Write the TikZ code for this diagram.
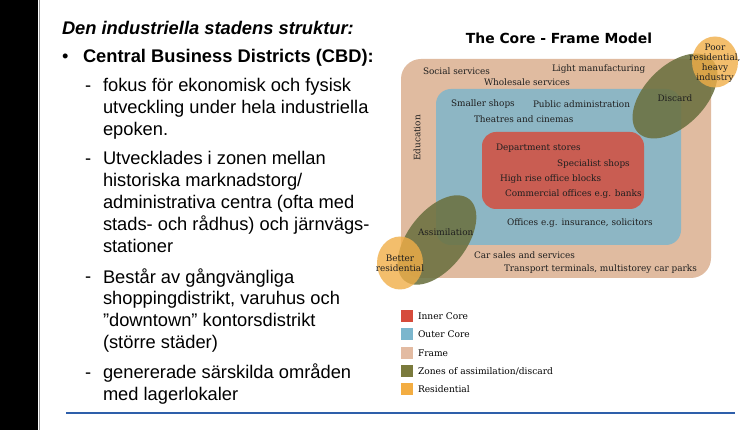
\documentclass[tikz,border=0pt]{standalone}
\usepackage{fontspec}
\setmainfont{Liberation Sans}
\newfontfamily\dvserif{DejaVu Serif}
\newfontfamily\dvsans{DejaVu Sans}
\usetikzlibrary{positioning,shapes.geometric}
\definecolor{FrameTan}{HTML}{E0BBA0}
\definecolor{OuterBlue}{HTML}{8DB6C4}
\definecolor{InnerRed}{HTML}{C95D52}
\definecolor{Olive}{HTML}{6B7140}
\definecolor{Resid}{HTML}{F0AE48}
\definecolor{KeyRed}{HTML}{D64B3B}
\definecolor{KeyBlue}{HTML}{7BB6CD}
\definecolor{KeyTan}{HTML}{E3BBA2}
\definecolor{KeyOlive}{HTML}{7A7A3C}
\definecolor{KeyOrange}{HTML}{F3AD42}
\definecolor{RuleBlue}{HTML}{2E5FAA}

\begin{document}
\begin{tikzpicture}[x=1pt,y=-1pt,
  every node/.style={inner sep=0pt,outer sep=0pt},
  slide/.style={anchor=base west,align=left,font=\fontsize{18.3}{22}\selectfont},
  zone/.style={anchor=north west,rounded corners=#1},
  lbl/.style={font=\dvserif\fontsize{8.9}{10}\selectfont,text=black!88},
  blob/.style={ellipse,fill=Olive,fill opacity=0.88},
  resid/.style={ellipse,fill=Resid,fill opacity=0.8},
  swatch/.style={minimum size=12pt},
  keylbl/.style={right=5pt of #1,font=\dvserif\fontsize{9.1}{10}\selectfont}]
\useasboundingbox (0,0) rectangle (753,430);
\fill[white] (0,0) rectangle (753,430);
\fill[black] (0,0) rectangle (38,430);
\draw[black!40] (39,0) -- (39,430);
% slide text
\node[slide,font=\fontsize{18.3}{22}\selectfont\bfseries\itshape] (head) at (62,35) {Den industriella stadens struktur:};
\node[slide] (dot) at (62,63) {\textbullet};
\node[slide,font=\fontsize{18.3}{22}\selectfont\bfseries] (cbd) at (83,63) {Central Business Districts (CBD):};
\node[slide] (d1) at (85,92) {-};
\node[slide] (p1) at (103,136) {fokus för ekonomisk och fysisk\\utveckling under hela industriella\\epoken.};
\node[slide] (d2) at (85,165) {-};
\node[slide] (p2) at (103,253) {Utvecklades i zonen mellan\\historiska marknadstorg/\\administrativa centra (ofta med\\stads- och rådhus) och järnvägs-\\stationer};
\node[slide] (d3) at (85,283) {-};
\node[slide] (p3) at (103,349) {Består av gångvängliga\\shoppingdistrikt, varuhus och\\”downtown” kontorsdistrikt\\(större städer)};
\node[slide] (d4) at (85,379) {-};
\node[slide] (p4) at (103,401) {genererade särskilda områden\\med lagerlokaler};
\draw[RuleBlue,line width=1.5pt] (66,413) -- (735,413);
% core - frame model
\node[font=\dvsans\bfseries\fontsize{13.9}{15}\selectfont] (title) at (559,38) {The Core - Frame Model};
\node[zone=20pt,fill=FrameTan,minimum width=310pt,minimum height=219pt] (frame) at (401,59) {};
\node[zone=15pt,fill=OuterBlue,minimum width=245pt,minimum height=156pt] (outer) at (436,89) {};
\node[zone=14pt,fill=InnerRed,minimum width=162pt,minimum height=77pt] (inner) at (482,132) {};
\node[blob,minimum width=104pt,minimum height=60pt,rotate=45] (discard) at (675,96) {};
\node[blob,minimum width=104pt,minimum height=58pt,rotate=52] (assim) at (437,240) {};
\node[resid,minimum width=46pt,minimum height=51pt] (poor) at (715,62) {};
\node[resid,minimum width=46pt,minimum height=53pt] (better) at (400,263) {};
\node[lbl,anchor=west] (social) at (423,71) {Social services};
\node[lbl,anchor=west] (light) at (552,69) {Light manufacturing};
\node[lbl,anchor=west] (whole) at (484,82) {Wholesale services};
\node[lbl,anchor=west] (shops) at (451,104) {Smaller shops};
\node[lbl,anchor=west] (admin) at (533,104) {Public administration};
\node[lbl,anchor=west] (theatre) at (474,119) {Theatres and cinemas};
\node[lbl,rotate=90] (edu) at (417,138) {Education};
\node[lbl] (discardlbl) at (675,98) {Discard};
\node[lbl,align=center] (poorlbl) at (715,63) {Poor\\residential,\\heavy\\industry};
\node[lbl,anchor=west] (dept) at (496,148) {Department stores};
\node[lbl,anchor=west] (spec) at (557,164) {Specialist shops};
\node[lbl,anchor=west] (high) at (500,179) {High rise office blocks};
\node[lbl,anchor=west] (banks) at (505,194) {Commercial offices e.g. banks};
\node[lbl,anchor=west] (offices) at (507,223) {Offices e.g. insurance, solicitors};
\node[lbl,anchor=west] (assimlbl) at (418,232) {Assimilation};
\node[lbl,align=center] (betterlbl) at (400,263) {Better\\residential};
\node[lbl,anchor=west] (cars) at (474,255) {Car sales and services};
\node[lbl,anchor=west] (transport) at (504,269) {Transport terminals, multistorey car parks};
% legend
\node[swatch,fill=KeyRed] (k1) at (407,316) {};
\node[swatch,fill=KeyBlue] (k2) at (407,334) {};
\node[swatch,fill=KeyTan] (k3) at (407,353) {};
\node[swatch,fill=KeyOlive] (k4) at (407,371) {};
\node[swatch,fill=KeyOrange] (k5) at (407,389) {};
\node[keylbl=k1] (k1lbl) {Inner Core};
\node[keylbl=k2] (k2lbl) {Outer Core};
\node[keylbl=k3] (k3lbl) {Frame};
\node[keylbl=k4] (k4lbl) {Zones of assimilation/discard};
\node[keylbl=k5] (k5lbl) {Residential};
\end{tikzpicture}
\end{document}
